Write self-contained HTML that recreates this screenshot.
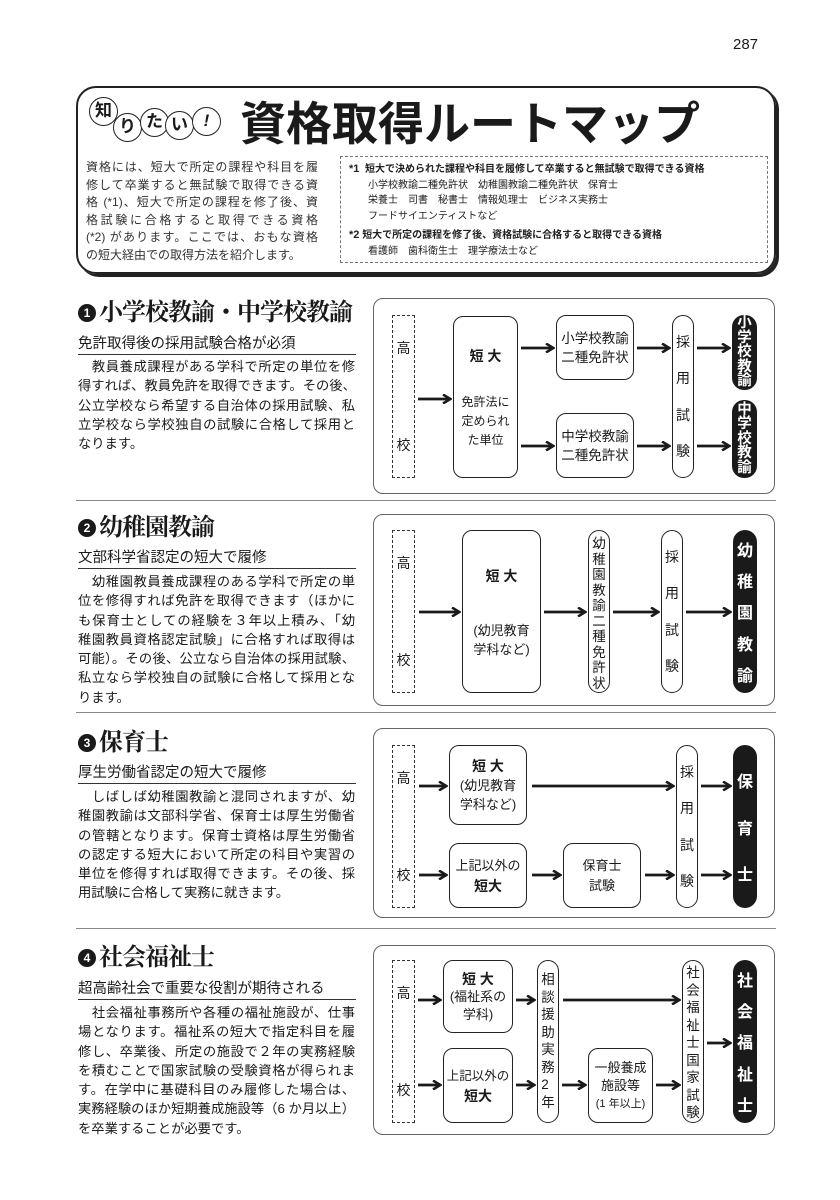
<!DOCTYPE html>
<html><head><meta charset="utf-8"><style>
*{margin:0;padding:0}
body{width:840px;height:1200px;position:relative;background:#fff;font-family:"Liberation Sans","Noto Sans CJK JP",sans-serif;color:#1a1a1a;overflow:hidden}
.a{position:absolute}
.b{position:absolute;border:1.5px solid #222;border-radius:10px;box-sizing:border-box;display:flex;flex-direction:column;align-items:center;justify-content:center;text-align:center;font-size:13px;line-height:18px;background:#fff}
.v{position:absolute;border:1.5px solid #222;border-radius:11px;box-sizing:border-box;display:flex;flex-direction:column;align-items:center;font-size:14px;background:#fff}
.k{position:absolute;background:#1a1a1a;color:#fff;border-radius:12px;display:flex;flex-direction:column;align-items:center;font-weight:bold;font-size:16px}
.d{position:absolute;border:1.5px dashed #333;box-sizing:border-box;display:flex;flex-direction:column;justify-content:space-between;align-items:center;padding:22px 0 ;font-size:14px}
.frame{position:absolute;left:373px;width:402px;border:1.3px solid #666;border-radius:10px;box-sizing:border-box}
.h{position:absolute;left:78px;font-family:"Liberation Serif","Noto Serif CJK SC",serif;font-size:24px;letter-spacing:-1px;line-height:30px;font-weight:bold;white-space:nowrap}
.num{display:inline-block;width:18px;height:18px;border-radius:50%;background:#1a1a1a;color:#fff;font-family:"Liberation Sans",sans-serif;font-size:12px;letter-spacing:0;text-align:center;line-height:18px;vertical-align:3px;margin-right:3px}
.s{position:absolute;left:78px;width:278px;font-size:14.5px;line-height:18px;border-bottom:1.3px solid #333;padding-bottom:1px;white-space:nowrap}
.p{position:absolute;left:78px;width:277px;font-size:13.3px;line-height:19.3px}
.p div{text-align:justify;text-align-last:justify;white-space:nowrap}
.p div.l{text-align-last:left}
.sb{justify-content:space-evenly}
.c{position:absolute;width:27px;height:27px;border:1.3px solid #222;border-radius:50%;font-size:17px;font-weight:bold;text-align:center;line-height:26px;background:#fff}
</style></head><body>
<div class="a" style="left:733px;top:36px;font-size:15px">287</div>

<!-- header -->
<div class="a" style="left:76px;top:86px;width:700px;height:188px;border:2px solid #222;border-radius:20px;box-sizing:border-box;box-shadow:3px 3px 0 #222"></div>
<div class="c" style="left:89px;top:97px">知</div>
<div class="c" style="left:113px;top:113px">り</div>
<div class="c" style="left:140px;top:108px">た</div>
<div class="c" style="left:165px;top:111px">い</div>
<div class="c" style="left:192px;top:107px;font-style:italic">!</div>
<div class="a" style="left:240px;top:96px;font-size:46px;font-weight:bold;white-space:nowrap;line-height:56px">資格取得ルートマップ</div>
<div class="a" style="left:86px;top:159px;width:232px;font-size:12px;line-height:17.5px;color:#333">
<div style="text-align-last:justify">資格には、短大で所定の課程や科目を履</div>
<div style="text-align-last:justify">修して卒業すると無試験で取得できる資</div>
<div style="text-align-last:justify">格 (*1)、短大で所定の課程を修了後、資</div>
<div style="text-align-last:justify">格試験に合格すると取得できる資格</div>
<div style="text-align-last:justify">(*2) があります。ここでは、おもな資格</div>
<div>の短大経由での取得方法を紹介します。</div></div>
<div class="a" style="left:340px;top:156px;width:428px;height:107px;border:1.2px dashed #777;box-sizing:border-box;font-size:10px;line-height:15.5px;padding:5px 0 0 8px;color:#222">
<div><b style="font-size:11px">*1</b>&nbsp; <b>短大で決められた課程や科目を履修して卒業すると無試験で取得できる資格</b></div>
<div style="padding-left:19px">小学校教諭二種免許状　幼稚園教諭二種免許状　保育士</div>
<div style="padding-left:19px">栄養士　司書　秘書士　情報処理士　ビジネス実務士</div>
<div style="padding-left:19px">フードサイエンティストなど</div>
<div style="margin-top:4px"><b style="font-size:11px">*2</b>&nbsp;<b>短大で所定の課程を修了後、資格試験に合格すると取得できる資格</b></div>
<div style="padding-left:19px">看護師　歯科衛生士　理学療法士など</div></div>

<!-- dividers -->
<div class="a" style="left:76px;top:500px;width:700px;border-top:1.3px solid #888"></div>
<div class="a" style="left:76px;top:712px;width:700px;border-top:1.3px solid #888"></div>
<div class="a" style="left:76px;top:928px;width:700px;border-top:1.3px solid #888"></div>

<!-- section 1 -->
<div class="h" style="top:298px"><span class="num">1</span>小学校教諭・中学校教諭</div>
<div class="s" style="top:335px">免許取得後の採用試験合格が必須</div>
<div class="p" style="top:357px"><div>　教員養成課程がある学科で所定の単位を修</div><div>得すれば、教員免許を取得できます。その後、</div><div>公立学校なら希望する自治体の採用試験、私</div><div>立学校なら学校独自の試験に合格して採用と</div><div class="l">なります。</div></div>
<div class="frame" style="top:298px;height:196px"></div>
<div class="d" style="left:392px;top:315px;width:23px;height:163px"><span>高</span><span>校</span></div>
<div class="b" style="left:453px;top:316px;width:65px;height:162px;justify-content:flex-start;padding-top:30px"><b style="font-size:14px">短 大</b><div style="margin-top:28px;font-size:12px;line-height:19px">免許法に<br>定められ<br>た単位</div></div>
<div class="b" style="left:556px;top:315px;width:78px;height:65px;font-size:13.5px;line-height:19px">小学校教諭<br>二種免許状</div>
<div class="b" style="left:556px;top:413px;width:78px;height:65px;font-size:13.5px;line-height:19px">中学校教諭<br>二種免許状</div>
<div class="v sb" style="left:672px;top:315px;width:22px;height:163px"><span>採</span><span>用</span><span>試</span><span>験</span></div>
<div class="k" style="left:732px;top:315px;width:25px;height:75px;justify-content:center;line-height:14.5px;font-size:14.5px">小<br>学<br>校<br>教<br>諭</div>
<div class="k" style="left:732px;top:400px;width:25px;height:78px;justify-content:center;line-height:14.5px;font-size:14.5px">中<br>学<br>校<br>教<br>諭</div>

<!-- section 2 -->
<div class="h" style="top:513px"><span class="num">2</span>幼稚園教諭</div>
<div class="s" style="top:549px">文部科学省認定の短大で履修</div>
<div class="p" style="top:572px"><div>　幼稚園教員養成課程のある学科で所定の単</div><div>位を修得すれば免許を取得できます（ほかに</div><div>も保育士としての経験を３年以上積み、「幼</div><div>稚園教員資格認定試験」に合格すれば取得は</div><div>可能）。その後、公立なら自治体の採用試験、</div><div>私立なら学校独自の試験に合格して採用とな</div><div class="l">ります。</div></div>
<div class="frame" style="top:514px;height:192px"></div>
<div class="d" style="left:392px;top:530px;width:23px;height:163px"><span>高</span><span>校</span></div>
<div class="b" style="left:462px;top:530px;width:79px;height:163px;justify-content:flex-start;padding-top:36px"><b style="font-size:14px">短 大</b><div style="margin-top:36px;font-size:13px;line-height:19px">(幼児教育<br>学科など)</div></div>
<div class="v" style="left:588px;top:530px;width:22px;height:163px;font-size:13.5px;line-height:15.5px;padding-top:5px">幼<br>稚<br>園<br>教<br>諭<br>二<br>種<br>免<br>許<br>状</div>
<div class="v sb" style="left:661px;top:530px;width:22px;height:163px"><span>採</span><span>用</span><span>試</span><span>験</span></div>
<div class="k sb" style="left:733px;top:530px;width:24px;height:163px"><span>幼</span><span>稚</span><span>園</span><span>教</span><span>諭</span></div>

<!-- section 3 -->
<div class="h" style="top:728px"><span class="num">3</span>保育士</div>
<div class="s" style="top:764px">厚生労働省認定の短大で履修</div>
<div class="p" style="top:787px"><div>　しばしば幼稚園教諭と混同されますが、幼</div><div>稚園教諭は文部科学省、保育士は厚生労働省</div><div>の管轄となります。保育士資格は厚生労働省</div><div>の認定する短大において所定の科目や実習の</div><div>単位を修得すれば取得できます。その後、採</div><div class="l">用試験に合格して実務に就きます。</div></div>
<div class="frame" style="top:728px;height:190px"></div>
<div class="d" style="left:392px;top:745px;width:23px;height:163px"><span>高</span><span>校</span></div>
<div class="b" style="left:449px;top:745px;width:78px;height:80px;line-height:19px"><b style="font-size:14px">短 大</b>(幼児教育<br>学科など)</div>
<div class="b" style="left:449px;top:843px;width:78px;height:65px;line-height:20px">上記以外の<br><b style="font-size:14px">短大</b></div>
<div class="b" style="left:563px;top:843px;width:78px;height:65px;line-height:20px">保育士<br>試験</div>
<div class="v sb" style="left:676px;top:745px;width:22px;height:163px"><span>採</span><span>用</span><span>試</span><span>験</span></div>
<div class="k sb" style="left:733px;top:745px;width:24px;height:163px"><span>保</span><span>育</span><span>士</span></div>

<!-- section 4 -->
<div class="h" style="top:943px"><span class="num">4</span>社会福祉士</div>
<div class="s" style="top:980px">超高齢社会で重要な役割が期待される</div>
<div class="p" style="top:1003px"><div>　社会福祉事務所や各種の福祉施設が、仕事</div><div>場となります。福祉系の短大で指定科目を履</div><div>修し、卒業後、所定の施設で２年の実務経験</div><div>を積むことで国家試験の受験資格が得られま</div><div>す。在学中に基礎科目のみ履修した場合は、</div><div>実務経験のほか短期養成施設等（6 か月以上）</div><div class="l">を卒業することが必要です。</div></div>
<div class="frame" style="top:945px;height:190px"></div>
<div class="d" style="left:392px;top:960px;width:23px;height:163px"><span>高</span><span>校</span></div>
<div class="b" style="left:443px;top:960px;width:70px;height:73px;line-height:18px"><b style="font-size:14px">短 大</b>(福祉系の<br>学科)</div>
<div class="b" style="left:443px;top:1048px;width:70px;height:75px;line-height:20px;font-size:12.5px">上記以外の<br><b style="font-size:14px">短大</b></div>
<div class="v" style="left:537px;top:960px;width:22px;height:163px;font-size:13.5px;line-height:17.5px;padding-top:10px">相<br>談<br>援<br>助<br>実<br>務<br>2<br>年</div>
<div class="b" style="left:588px;top:1048px;width:65px;height:75px;line-height:18px">一般養成<br>施設等<br><span style="font-size:11px">(1 年以上)</span></div>
<div class="v" style="left:682px;top:960px;width:22px;height:163px;font-size:13.5px;line-height:17.5px;padding-top:3px">社<br>会<br>福<br>祉<br>士<br>国<br>家<br>試<br>験</div>
<div class="k sb" style="left:733px;top:960px;width:24px;height:163px"><span>社</span><span>会</span><span>福</span><span>祉</span><span>士</span></div>

<svg class="a" style="left:0;top:0" width="840" height="1200" viewBox="0 0 840 1200">
<defs><marker id="m" markerWidth="10" markerHeight="10" refX="8" refY="5" orient="auto" markerUnits="userSpaceOnUse"><polyline points="1,0.5 8.5,5 1,9.5" fill="none" stroke="#1a1a1a" stroke-width="2.5"/></marker></defs>
<g stroke="#1a1a1a" stroke-width="2.8" marker-end="url(#m)">
<line x1="418" y1="399" x2="450" y2="399"/>
<line x1="521" y1="348" x2="553" y2="348"/>
<line x1="521" y1="446" x2="553" y2="446"/>
<line x1="637" y1="348" x2="669" y2="348"/>
<line x1="637" y1="446" x2="669" y2="446"/>
<line x1="697" y1="348" x2="729" y2="348"/>
<line x1="697" y1="446" x2="729" y2="446"/>

<line x1="419" y1="612" x2="459" y2="612"/>
<line x1="544" y1="612" x2="585" y2="612"/>
<line x1="613" y1="612" x2="658" y2="612"/>
<line x1="686" y1="612" x2="730" y2="612"/>

<line x1="419" y1="786" x2="446" y2="786"/>
<line x1="532" y1="786" x2="673" y2="786"/>
<line x1="701" y1="786" x2="730" y2="786"/>
<line x1="419" y1="875" x2="446" y2="875"/>
<line x1="532" y1="875" x2="560" y2="875"/>
<line x1="645" y1="875" x2="673" y2="875"/>
<line x1="701" y1="875" x2="730" y2="875"/>

<line x1="418" y1="1000" x2="440" y2="1000"/>
<line x1="516" y1="1000" x2="534" y2="1000"/>
<line x1="563" y1="1000" x2="679" y2="1000"/>
<line x1="418" y1="1085" x2="440" y2="1085"/>
<line x1="516" y1="1085" x2="534" y2="1085"/>
<line x1="562" y1="1085" x2="585" y2="1085"/>
<line x1="656" y1="1085" x2="679" y2="1085"/>
<line x1="707" y1="1043" x2="730" y2="1043"/>
</g></svg>
</body></html>
